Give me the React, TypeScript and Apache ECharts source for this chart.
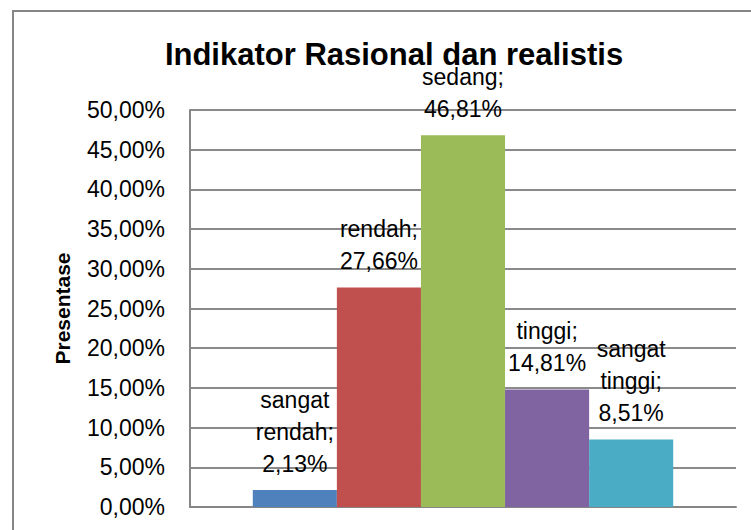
import React, { useEffect, useRef } from "react";
import * as echarts from "echarts";

const titleText = "Indikator Rasional dan realistis";
const yAxisName = "Presentase";
const categories = ["sangat rendah", "rendah", "sedang", "tinggi", "sangat tinggi"];
const values = [2.13, 27.66, 46.81, 14.81, 8.51];
const colors = ["#4F81BD", "#C0504D", "#9BBB59", "#8064A2", "#4BACC6"];
const yTicks = { min: 0, max: 50, interval: 5 };

const fmt = (v: number) => v.toFixed(2).replace(".", ",") + "%";

export default function App() {
  const ref = useRef<HTMLDivElement>(null);
  useEffect(() => {
    if (!ref.current) return;
    const chart = echarts.init(ref.current, null, { renderer: "svg" });
    const font = "'Liberation Sans', Arial, sans-serif";
    chart.setOption({
      animation: false,
      textStyle: { fontFamily: font },
      title: {
        text: titleText,
        left: 389,
        top: 34,
        textAlign: "center",
        textStyle: { fontFamily: font, fontSize: 31, fontWeight: "bold", color: "#000" },
      },
      graphic: [
        {
          type: "rect",
          shape: { x: 13, y: 11, width: 800, height: 600 },
          style: { fill: "none", stroke: "#868686", lineWidth: 2 },
          silent: true,
        },
      ],
      grid: { left: 190, right: 15, top: 110, bottom: 23, containLabel: false },
      xAxis: {
        type: "category",
        data: [""],
        axisLine: { show: true, lineStyle: { color: "#868686", width: 2 } },
        axisTick: { show: false },
        axisLabel: { show: false },
      },
      yAxis: {
        type: "value",
        min: yTicks.min,
        max: yTicks.max,
        interval: yTicks.interval,
        name: yAxisName,
        nameLocation: "middle",
        nameGap: 117,
        nameTextStyle: { fontFamily: font, fontSize: 21, fontWeight: "bold", color: "#000" },
        axisLine: { show: true, lineStyle: { color: "#868686", width: 2 } },
        axisTick: { show: false },
        axisLabel: {
          formatter: (v: number) => fmt(v),
          fontFamily: font,
          fontSize: 23,
          color: "#000",
          margin: 25,
        },
        splitLine: { show: true, lineStyle: { color: "#8a8a8a", width: 2 } },
      },
      series: categories.map((name, i) => ({
        type: "bar",
        name,
        data: [values[i]],
        barGap: "0%",
        barCategoryGap: "23%",
        itemStyle: { color: colors[i] },
        label: {
          show: true,
          position: "top",
          distance: 10,
          fontFamily: font,
          fontSize: 23,
          lineHeight: 32,
          color: "#000",
          align: "center",
          formatter: () => `${name.replace(" ", "\n")};\n${fmt(values[i])}`,
        },
      })),
    });
    return () => chart.dispose();
  }, []);
  return (
    <div
      ref={ref}
      style={{ position: "fixed", left: 0, top: 0, width: 751, height: 530, background: "#fff" }}
    />
  );
}
